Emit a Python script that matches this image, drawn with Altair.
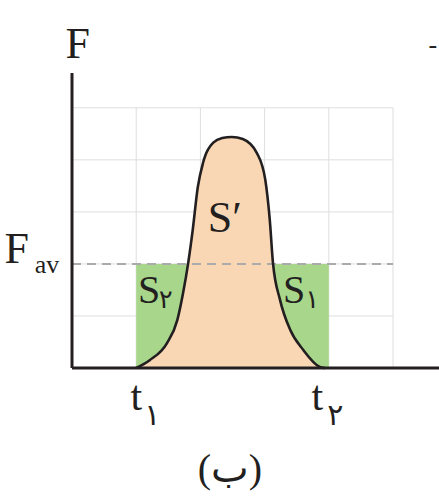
import altair as alt
import pandas as pd

# Force-time curve F(t) between t1 and t2 (grid units)
curve_t = [1.0, 1.21, 1.48, 1.64, 1.73, 1.81, 1.88, 1.96, 2.04, 2.20, 2.34, 2.49,
           2.66, 2.88, 3.01, 3.08, 3.13, 3.24, 3.40, 3.60, 3.86, 3.94]
curve_f = [0.0, 0.15, 0.48, 0.92, 1.44, 2.02, 2.65, 3.48, 3.94, 4.33, 4.42, 4.44,
           4.40, 4.13, 3.62, 2.85, 2.02, 1.31, 0.73, 0.35, 0.02, 0.0]

# Average force and the interval it acts over
f_av = 2.0
t_start = 1.0
t_end = 4.0

# Background grid
grid_x = [1, 2, 3, 4, 5]
grid_y = [1, 2, 3, 4, 5]
grid_max = 5

# Axis extents
x_max = 5.716
y_max = 5.65
y_axis_top = 5.67

# Labels: text, t, F, size
label_text = ["F", "F", "av", "t", "\u06F1", "t", "\u06F2", "(\u0628)",
              "S\u2032", "S", "\u06F2", "S", "\u06F1", "-"]
label_t = [0.09, -0.86, -0.39, 1.0, 1.25, 3.82, 4.10, 2.46,
           2.38, 1.20, 1.46, 3.46, 3.74, 5.62]
label_f = [5.96, 2.02, 1.82, -0.81, -1.10, -0.81, -1.10, -2.19,
           2.62, 1.25, 1.15, 1.25, 1.15, 6.05]
label_size = [44, 44, 26, 42, 30, 42, 30, 40,
              44, 40, 26, 40, 26, 26]

FONT = "Liberation Serif, DejaVu Sans"
INK = "#231f20"

xs = alt.Scale(domain=[0, x_max], nice=False, zero=False)
ys = alt.Scale(domain=[0, y_max], nice=False, zero=False)

curve = pd.DataFrame({"t": curve_t, "F": curve_f})

vgrid = pd.DataFrame({"t": grid_x, "F0": [0] * len(grid_x), "F1": [grid_max] * len(grid_x)})
hgrid = pd.DataFrame({"F": grid_y, "t0": [0] * len(grid_y), "t1": [grid_max] * len(grid_y)})

vgrid_layer = alt.Chart(vgrid).mark_rule(color="#dedede", strokeWidth=1).encode(
    x=alt.X("t:Q", scale=xs, axis=None),
    y=alt.Y("F0:Q", scale=ys, axis=None),
    y2="F1:Q",
)
hgrid_layer = alt.Chart(hgrid).mark_rule(color="#dedede", strokeWidth=1).encode(
    y=alt.Y("F:Q", scale=ys, axis=None),
    x=alt.X("t0:Q", scale=xs, axis=None),
    x2="t1:Q",
)

# Rectangle F_av * (t2 - t1)
rect = pd.DataFrame({"t0": [t_start], "t1": [t_end], "F0": [0.0], "F1": [f_av]})
rect_layer = alt.Chart(rect).mark_rect(color="#a8d78c").encode(
    x=alt.X("t0:Q", scale=xs, axis=None),
    x2="t1:Q",
    y=alt.Y("F0:Q", scale=ys, axis=None),
    y2="F1:Q",
)

area_layer = alt.Chart(curve).mark_area(color="#f9d7b5", interpolate="monotone").encode(
    x=alt.X("t:Q", scale=xs, axis=None),
    y=alt.Y("F:Q", scale=ys, axis=None),
)
line_layer = alt.Chart(curve).mark_line(
    color=INK, strokeWidth=2.6, interpolate="monotone"
).encode(
    x=alt.X("t:Q", scale=xs, axis=None),
    y=alt.Y("F:Q", scale=ys, axis=None),
)

fav = pd.DataFrame({"F": [f_av], "t0": [0.0], "t1": [grid_max]})
fav_layer = alt.Chart(fav).mark_rule(
    color="#ababab", strokeWidth=2, strokeDash=[9, 6]
).encode(
    y=alt.Y("F:Q", scale=ys, axis=None),
    x=alt.X("t0:Q", scale=xs, axis=None),
    x2="t1:Q",
)

# Axis lines
yaxis = pd.DataFrame({"t": [0.0], "F0": [0.0], "F1": [y_axis_top]})
xaxis = pd.DataFrame({"F": [0.0], "t0": [0.0], "t1": [x_max]})
yaxis_layer = alt.Chart(yaxis).mark_rule(color=INK, strokeWidth=3).encode(
    x=alt.X("t:Q", scale=xs, axis=None),
    y=alt.Y("F0:Q", scale=ys, axis=None),
    y2="F1:Q",
)
xaxis_layer = alt.Chart(xaxis).mark_rule(color=INK, strokeWidth=3).encode(
    y=alt.Y("F:Q", scale=ys, axis=None),
    x=alt.X("t0:Q", scale=xs, axis=None),
    x2="t1:Q",
)

labels = pd.DataFrame({"text": label_text, "t": label_t, "F": label_f, "size": label_size})
label_layer = alt.Chart(labels).mark_text(
    font=FONT, color=INK, baseline="alphabetic", align="center"
).encode(
    x=alt.X("t:Q", scale=xs, axis=None),
    y=alt.Y("F:Q", scale=ys, axis=None),
    text="text:N",
    size=alt.Size("size:Q", scale=None, legend=None),
)

chart = alt.layer(
    vgrid_layer, hgrid_layer, rect_layer, area_layer, fav_layer, line_layer,
    yaxis_layer, xaxis_layer, label_layer,
).properties(
    width=367,
    height=294,
    autosize=alt.AutoSizeParams(type="none"),
    padding={"left": 72, "top": 74, "right": 0, "bottom": 129},
    background="white",
).configure_view(stroke=None)

chart.save("out.html", embed_options={"renderer": "svg", "actions": False})
